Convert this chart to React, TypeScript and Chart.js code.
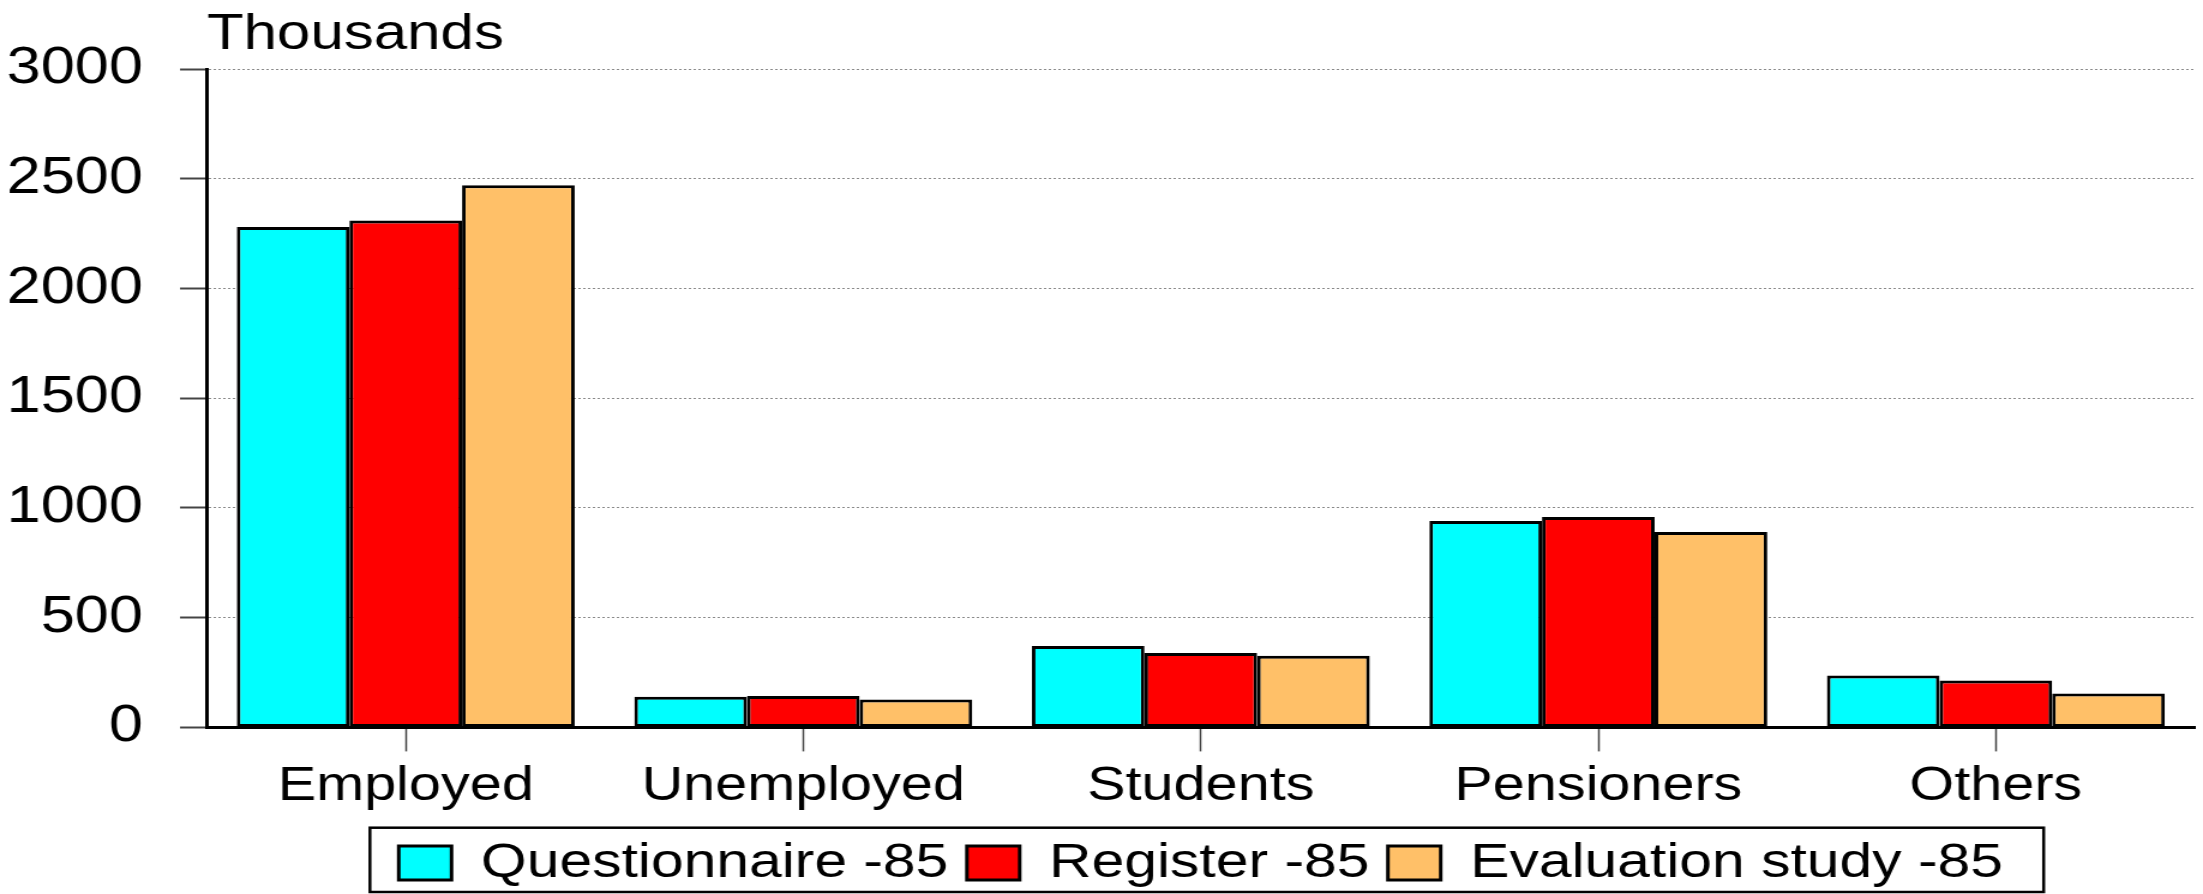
import React, { useEffect, useRef } from 'react';
import { Chart, registerables } from 'chart.js';

Chart.register(...registerables);

// ---- data ----
const categories = ['Employed', 'Unemployed', 'Students', 'Pensioners', 'Others'];
const questionnaire85 = [2280, 140, 371, 940, 237];
const register85 = [2310, 143, 339, 959, 214];
const evaluation85 = [2470, 127, 327, 890, 154];
const seriesLabels = ['Questionnaire -85', 'Register -85', 'Evaluation study -85'];
const seriesColors = ['#00FFFF', '#FF0000', '#FFC068'];
const yMin = 0;
const yMax = 3000;
const yStep = 500;
const unitLabel = 'Thousands';

// ---- geometry ----
const FULL_W = 2203;
const FULL_H = 894;
const W = 1836; // chart drawn narrower, then stretched horizontally (source text is wide)
const SX = FULL_W / W;
const FONT = '"Liberation Sans", Arial, sans-serif';
const AXIS_X = 172.5;

const legendBorder = {
  id: 'legendBorder',
  afterDraw(chart: any) {
    const boxes = chart.legend && chart.legend.legendHitBoxes;
    if (!boxes || !boxes.length) return;
    const first = boxes[0];
    const last = boxes[boxes.length - 1];
    const ctx = chart.ctx;
    const left = first.left - 24;
    const right = last.left + last.width + 34;
    const top = first.top - 10.8;
    const bottom = first.top + 53.5;
    ctx.save();
    ctx.strokeStyle = '#000';
    ctx.lineWidth = 2.5;
    ctx.strokeRect(left, top, right - left, bottom - top);
    ctx.restore();
  },
};

export default function App() {
  const ref = useRef<HTMLCanvasElement | null>(null);

  useEffect(() => {
    document.body.style.margin = '0';
    const canvas = ref.current;
    if (!canvas) return;
    const chart = new Chart(canvas, {
      type: 'bar',
      data: {
        labels: categories,
        datasets: [questionnaire85, register85, evaluation85].map((d, i) => ({
          label: seriesLabels[i],
          data: d,
          backgroundColor: seriesColors[i],
          borderColor: '#000',
          borderWidth: 3,
          borderSkipped: false,
          categoryPercentage: 0.85,
          barPercentage: 1.0,
        })),
      },
      options: {
        responsive: false,
        animation: false,
        devicePixelRatio: 1,
        layout: { padding: { left: 0, right: 7, top: 0, bottom: -3.5 } },
        font: { family: FONT },
        scales: {
          x: {
            offset: true,
            grid: {
              offset: false,
              drawOnChartArea: false,
              drawTicks: true,
              tickLength: 24,
              tickColor: '#444',
              tickWidth: 1.5,
            },
            border: { display: true, color: '#000', width: 3 },
            ticks: {
              color: '#000',
              font: { family: FONT, size: 48 },
              padding: 7,
              autoSkip: false,
              maxRotation: 0,
            },
          },
          y: {
            min: yMin,
            max: yMax,
            afterFit: (scale: any) => {
              scale.width = AXIS_X;
            },
            grid: {
              color: '#8a8a8a',
              lineWidth: 1,
              drawOnChartArea: true,
              drawTicks: true,
              tickLength: 22.5,
              tickColor: '#444',
              tickWidth: 2,
              tickBorderDash: [],
            },
            border: { display: true, color: '#000', width: 3, dash: [2, 2] },
            ticks: {
              stepSize: yStep,
              color: '#000',
              font: { family: FONT, size: 51 },
              padding: 31,
              callback: (v: any) => String(v),
            },
          },
        },
        plugins: {
          title: {
            display: true,
            fullSize: false,
            text: unitLabel,
            align: 'start',
            color: '#000',
            font: { family: FONT, size: 50, weight: 'normal' },
            padding: { top: 5.7, bottom: 3.3 },
          },
          legend: {
            display: true,
            fullSize: false,
            position: 'bottom',
            labels: {
              color: '#000',
              font: { family: FONT, size: 49 },
              boxWidth: 44,
              boxHeight: 34,
              padding: 15.5,
            },
          },
          tooltip: { enabled: false },
        },
      },
      plugins: [legendBorder],
    } as any);
    return () => chart.destroy();
  }, []);

  return (
    <div style={{ width: FULL_W, height: FULL_H, overflow: 'hidden', background: '#fff' }}>
      <div style={{ width: W, height: FULL_H, transform: `scaleX(${SX})`, transformOrigin: '0 0' }}>
        <canvas
          ref={ref}
          width={W}
          height={FULL_H}
          style={{ display: 'block', width: W, height: FULL_H }}
        />
      </div>
    </div>
  );
}
